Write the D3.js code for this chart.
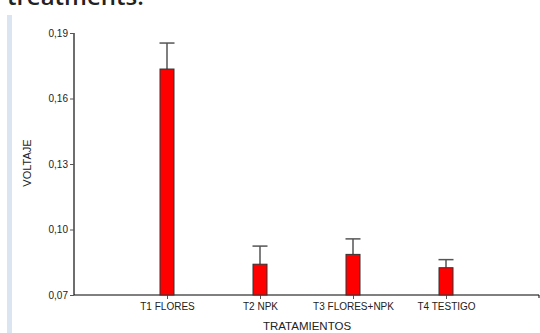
<!DOCTYPE html>
<html>
<head>
<meta charset="utf-8">
<script src="https://cdn.jsdelivr.net/npm/d3@7"></script>
<style>
html,body{margin:0;padding:0;background:#fff;}
svg{display:block;}
</style>
</head>
<body>
<svg id="chart" width="540" height="333"></svg>
<script>
const categories = ["T1 FLORES", "T2 NPK", "T3 FLORES+NPK", "T4 TESTIGO"];
const means = [0.1735, 0.0841, 0.0886, 0.0825];
const errors = [0.0119, 0.0083, 0.0071, 0.0037];
const yTicks = [0.07, 0.10, 0.13, 0.16, 0.19];
const yLabel = "VOLTAJE";
const xLabel = "TRATAMIENTOS";
const titleText = "treatments.";

(function () {
const svg = d3.select("#chart");
const mLeft = 74, mRight = 539, mTop = 33, mBottom = 295;

const x = d3.scaleLinear().domain([0, categories.length + 1]).range([mLeft, mRight]);
const y = d3.scaleLinear().domain([0.07, 0.19]).range([mBottom, mTop]);
const fmt = d3.formatLocale({decimal: ",", thousands: ".", grouping: [3], currency: ["", ""]}).format(".2f");

// cut-off title text at top
svg.append("text").attr("x", 7).attr("y", 5)
  .attr("font-family", "Open Sans, sans-serif").attr("font-size", 24).attr("font-weight", 600)
  .attr("fill", "#222").text(titleText);

// light blue side bar
svg.append("rect").attr("x", 7).attr("y", 15).attr("width", 5).attr("height", 318).attr("fill", "#dbe5f1");

// Y axis
const yAxis = d3.axisLeft(y).tickValues(yTicks).tickFormat(fmt).tickSize(4).tickPadding(2);
const gy = svg.append("g").attr("transform", `translate(${mLeft},0)`).call(yAxis);
gy.select(".domain").attr("stroke", "#6e6e6e").attr("stroke-width", 2).attr("d", `M0,${mTop}V${mBottom}`);
gy.selectAll(".tick line").attr("stroke", "#555");
gy.selectAll(".tick text").attr("font-family", "Liberation Sans, Arial, sans-serif").attr("font-size", 10).attr("fill", "#222");

// X axis
const xAxis = d3.axisBottom(x).tickValues(categories.map((d, i) => i + 1))
  .tickFormat((d) => categories[d - 1]).tickSize(4).tickPadding(4).tickSizeOuter(3);
const gx = svg.append("g").attr("transform", `translate(0,${mBottom})`).call(xAxis);
gx.select(".domain").attr("stroke", "#000").attr("stroke-width", 1).attr("d", `M${mLeft},0H${mRight}V3`);
gx.selectAll(".tick line").attr("stroke", "#555");
gx.selectAll(".tick text").attr("font-family", "Liberation Sans, Arial, sans-serif").attr("font-size", 10).attr("fill", "#222");

// Bars
const barW = 14;
const bars = svg.append("g");
categories.forEach((c, i) => {
  const cx = x(i + 1);
  const yTop = y(means[i]), yErr = y(means[i] + errors[i]);
  bars.append("line").attr("x1", cx).attr("x2", cx).attr("y1", yTop).attr("y2", yErr)
    .attr("stroke", "#555").attr("stroke-width", 1.5);
  bars.append("line").attr("x1", cx - 7.5).attr("x2", cx + 7.5).attr("y1", yErr).attr("y2", yErr)
    .attr("stroke", "#555").attr("stroke-width", 1.5);
  bars.append("rect").attr("x", cx - barW / 2).attr("y", yTop)
    .attr("width", barW).attr("height", y(0.07) - yTop)
    .attr("fill", "#ff0000").attr("stroke", "#333").attr("stroke-width", 1);
});

// Axis titles
svg.append("text").attr("x", 307).attr("y", 330).attr("text-anchor", "middle")
  .attr("font-family", "Liberation Sans, Arial, sans-serif").attr("font-size", 11.5).attr("fill", "#222").text(xLabel);
svg.append("text").attr("transform", "translate(31,163) rotate(-90)").attr("text-anchor", "middle")
  .attr("font-family", "Liberation Sans, Arial, sans-serif").attr("font-size", 11).attr("fill", "#222").text(yLabel);
})();
</script>
</body>
</html>
